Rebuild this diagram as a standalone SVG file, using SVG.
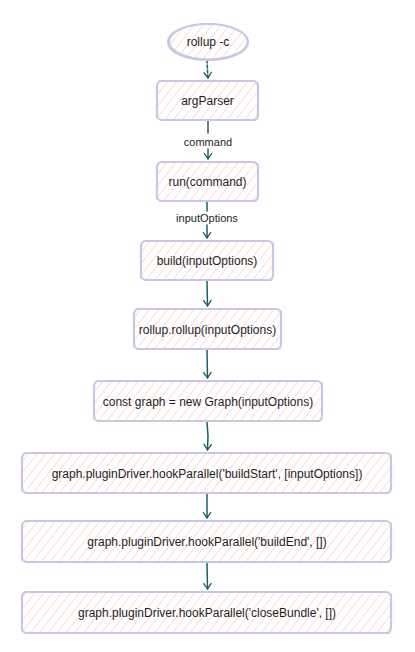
<svg xmlns="http://www.w3.org/2000/svg" width="415" height="652" viewBox="0 0 415 652">
  <defs>
    <!-- diagonal hachure fill -->
    <pattern id="hatch" width="7" height="8" patternUnits="userSpaceOnUse" patternTransform="rotate(38)">
      <line x1="0" y1="-2" x2="0" y2="10" stroke="#fbbcbd" stroke-width="1.1"/>
    </pattern>
    <marker id="arrow" viewBox="0 0 12 12" refX="10.5" refY="6" markerWidth="11" markerHeight="11" markerUnits="userSpaceOnUse" orient="auto">
      <path d="M4.5 2 L10.5 6 L4.5 10 M5.5 2.5 L10 6 L5.5 9.5" fill="none" stroke="#1d5f63" stroke-width="1.4" stroke-linecap="round" stroke-linejoin="round"/>
    </marker>
    <style>
      .fill { fill: url(#hatch); stroke: none; }
      .edge { fill: none; stroke: #cbc6e2; stroke-width: 2.2; stroke-linecap: round; stroke-linejoin: round; }
      .edge2 { fill: none; stroke: #cbc6e2; stroke-width: 1.2; stroke-linecap: round; }
      .txt { font-family: "Liberation Sans", Arial, Helvetica, sans-serif; font-size: 12px; fill: #1e1e1e; text-anchor: middle; dominant-baseline: central; }
      .lbl { font-family: "Liberation Sans", Arial, Helvetica, sans-serif; font-size: 11px; fill: #1e1e1e; text-anchor: middle; dominant-baseline: central; }
      .conn { fill: none; stroke: #1d5f63; stroke-width: 1.5; stroke-linecap: round; }
    </style>
  </defs>
  <rect width="415" height="652" fill="#ffffff"/>

  <g id="connectors">
    <path class="conn" d="M207 60 L207.5 70 L208 78" stroke-dasharray="3 2" marker-end="url(#arrow)"/>
    <path class="conn" d="M208 121 L208 133"/>
    <path class="conn" d="M208 149 L208 159" marker-end="url(#arrow)"/>
    <rect x="181" y="135" width="54" height="13" fill="#ffffff"/>
    <text class="lbl" x="208" y="141.5">command</text>
    <path class="conn" d="M207 202 L207 211"/>
    <path class="conn" d="M207 225 L207 238" marker-end="url(#arrow)"/>
    <text class="lbl" x="207" y="217.5">inputOptions</text>
    <path class="conn" d="M207 281 L207.5 306" marker-end="url(#arrow)"/>
    <path class="conn" d="M207 350 L207.5 378" marker-end="url(#arrow)"/>
    <path class="conn" d="M207 422 L208 436 L207.5 450" marker-end="url(#arrow)"/>
    <path class="conn" d="M207 494 L207 518" marker-end="url(#arrow)"/>
    <path class="conn" d="M207 562 L207.5 589" marker-end="url(#arrow)"/>
  </g>

  <g id="node-rollup-c">
    <ellipse class="fill" cx="208" cy="42" rx="39" ry="17"/>
    <ellipse class="edge" cx="208" cy="42" rx="40" ry="18"/>
    <ellipse class="edge2" cx="208.5" cy="41.5" rx="39" ry="17.5"/>
    <text class="txt" x="208" y="42">rollup -c</text>
  </g>

  <g id="node-argParser">
    <rect class="fill" x="158" y="82" width="99" height="37" rx="4"/>
    <rect class="edge" x="157" y="81" width="101" height="39" rx="5"/>
    <path class="edge2" d="M159 80.5 L256 81.5 M258.5 83 L257.5 119 M256 120.5 L160 120 M156.5 118 L157.5 83"/>
    <text class="txt" x="207.5" y="101">argParser</text>
  </g>

  <g id="node-run">
    <rect class="fill" x="158" y="163" width="99" height="37" rx="4"/>
    <rect class="edge" x="157" y="162" width="101" height="39" rx="5"/>
    <path class="edge2" d="M160 161.5 L255 162.5 M258.5 164 L257.5 200 M256 201.5 L160 201 M156.5 199 L157.5 164"/>
    <text class="txt" x="207.5" y="182">run(command)</text>
  </g>

  <g id="node-build">
    <rect class="fill" x="142" y="242" width="130" height="37" rx="4"/>
    <rect class="edge" x="141" y="241" width="132" height="39" rx="5"/>
    <path class="edge2" d="M144 240.5 L270 241.5 M273.5 243 L272.5 279 M271 280.5 L144 280 M140.5 278 L141.5 243"/>
    <text class="txt" x="207" y="261">build(inputOptions)</text>
  </g>

  <g id="node-rollup-rollup">
    <rect class="fill" x="135" y="310" width="145" height="38" rx="4"/>
    <rect class="edge" x="134" y="309" width="147" height="40" rx="5"/>
    <path class="edge2" d="M137 308.5 L278 309.5 M281.5 311 L280.5 348 M279 349.5 L137 349 M133.5 347 L134.5 312"/>
    <text class="txt" x="207.5" y="329.5">rollup.rollup(inputOptions)</text>
  </g>

  <g id="node-graph">
    <rect class="fill" x="95" y="382" width="226" height="38" rx="4"/>
    <rect class="edge" x="94" y="381" width="228" height="40" rx="5"/>
    <path class="edge2" d="M97 380.5 L319 381.5 M322.5 383 L321.5 420 M320 421.5 L97 421 M93.5 419 L94.5 384"/>
    <text class="txt" x="208" y="401.5">const graph = new Graph(inputOptions)</text>
  </g>

  <g id="node-buildStart">
    <rect class="fill" x="23" y="454" width="367" height="38" rx="4"/>
    <rect class="edge" x="22" y="453" width="369" height="40" rx="5"/>
    <path class="edge2" d="M25 452.5 L388 453.5 M391.5 455 L390.5 492 M389 493.5 L25 493 M21.5 491 L22.5 456"/>
    <text class="txt" x="207" y="473.5">graph.pluginDriver.hookParallel('buildStart', [inputOptions])</text>
  </g>

  <g id="node-buildEnd">
    <rect class="fill" x="23" y="522" width="367" height="39" rx="4"/>
    <rect class="edge" x="22" y="521" width="369" height="41" rx="5"/>
    <path class="edge2" d="M25 520.5 L388 521.5 M391.5 523 L390.5 561 M389 562.5 L25 562 M21.5 560 L22.5 524"/>
    <text class="txt" x="207" y="542">graph.pluginDriver.hookParallel('buildEnd', [])</text>
  </g>

  <g id="node-closeBundle">
    <rect class="fill" x="23" y="593" width="367" height="39" rx="4"/>
    <rect class="edge" x="22" y="592" width="369" height="41" rx="5"/>
    <path class="edge2" d="M25 591.5 L388 592.5 M391.5 594 L390.5 632 M389 633.5 L25 633 M21.5 631 L22.5 595"/>
    <text class="txt" x="207" y="613">graph.pluginDriver.hookParallel('closeBundle', [])</text>
  </g>
</svg>
